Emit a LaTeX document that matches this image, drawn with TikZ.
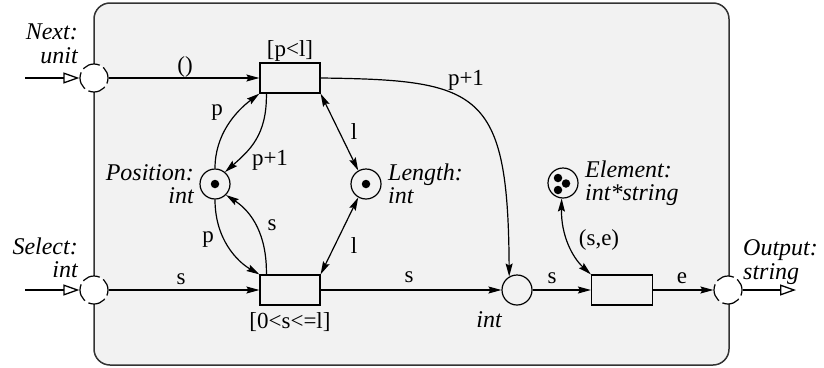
\documentclass[tikz,border=0pt]{standalone}
\usepackage{fontspec}
\setmainfont{Liberation Serif}
\usetikzlibrary{arrows.meta}

\begin{document}
\begin{tikzpicture}[x=1pt, y=-1pt,
  place/.style={circle, draw, line width=1.2pt, minimum size=30pt, inner sep=0pt},
  trans/.style={rectangle, draw, line width=1.2pt, minimum width=60pt, minimum height=30pt, inner sep=0pt},
  port/.style={circle, draw, line width=1.2pt, dash pattern=on 18pt off 4pt, dash phase=6pt, fill=white, minimum size=28pt, inner sep=0pt},
  arc/.style={line width=1.2pt, -{Stealth[length=13pt, width=7pt, inset=2pt]}},
  biarc/.style={line width=1.2pt, {Stealth[length=13pt, width=7pt, inset=2pt]}-{Stealth[length=13pt, width=7pt, inset=2pt]}},
  ext/.style={line width=2.2pt, -{Triangle[open, length=16pt, width=11pt, line width=1.3pt]}},
  lbl/.style={font=\fontsize{23}{23}\selectfont, inner sep=0pt},
  decl/.style={font=\fontsize{24}{23.5}\selectfont\itshape, inner sep=0pt},
  token/.style={circle, fill, minimum size=8.5pt, inner sep=0pt}]
  \useasboundingbox (0,0) rectangle (824,367);
  % module box
  \filldraw[fill=gray!10, draw=black!80, line width=1.5pt, rounded corners=16pt] (94,3) rectangle (729,365);
  % ports
  \node[port] (pNext) at (94,78) {};
  \node[port] (pSelect) at (94,290) {};
  \node[port] (pOutput) at (728,290) {};
  \node[decl, anchor=east, align=right] (dNext) at (78,44) {Next:\\unit};
  \node[decl, anchor=east, align=right] (dSelect) at (78,258) {Select:\\int};
  \node[decl, anchor=west, align=left] (dOutput) at (743,262) {Output:\\string};
  \coordinate (inNext) at (25,78);
  \coordinate (inSelect) at (25,290);
  \coordinate (outEnd) at (796,290);
  % transitions
  \node[trans] (tStep) at (290,78) {};
  \node[trans] (tSelect) at (290,290) {};
  \node[trans, minimum width=61pt] (tOutput) at (622,290) {};
  \node[lbl] (gStep) at (290,51) {[p<l]};
  \node[lbl] (gSelect) at (290,322) {[0<s<=l]};
  % places
  \node[place] (pPosition) at (215,184) {};
  \node[place] (pLength) at (366,184) {};
  \node[place] (pElement) at (563,183) {};
  \node[place] (pInt) at (517,290) {};
  \node[token] (kPosition) at (pPosition) {};
  \node[token] (kLength) at (pLength) {};
  \node[token] (kElemA) at (558,178) {};
  \node[token] (kElemB) at (566,183.5) {};
  \node[token] (kElemC) at (558,190) {};
  \node[decl, anchor=east, align=right] (dPosition) at (194,184) {Position:\\int};
  \node[decl, anchor=west, align=left] (dLength) at (388,184) {Length:\\int};
  \node[decl, anchor=west, align=left] (dElement) at (585,183) {Element:\\int*string};
  \node[decl] (dInt) at (489,320) {int};
  % arcs
  \draw[ext] (inNext) -- (pNext);
  \draw[ext] (inSelect) -- (pSelect);
  \draw[ext] (pOutput) -- (outEnd);
  \draw[arc] (pNext) -- (tStep);
  \draw[arc] (pSelect) -- (tSelect);
  \draw[arc] (tSelect) -- (pInt);
  \draw[arc] (pInt) -- (tOutput);
  \draw[arc] (tOutput) -- (pOutput);
  \draw[arc] ([xshift=7pt]tStep.south west) .. controls (267,135) and (250,150) .. (pPosition.50);
  \draw[arc] (pPosition.north) .. controls (215,135) and (235,112) .. (tStep.south west);
  \draw[arc] (pPosition.south) .. controls (215,240) and (238,262) .. (tSelect.north west);
  \draw[arc] ([xshift=7pt]tSelect.north west) .. controls (267,235) and (252,212) .. (pPosition.-45);
  \draw[biarc] (tStep.south east) -- (pLength.120);
  \draw[biarc] (pLength.-120) -- (tSelect.north east);
  \draw[arc] (tStep.east) .. controls (480,80) and (508,90) .. (pInt.120);
  \draw[biarc] (pElement.-95) .. controls (561,235) and (572,257) .. (tOutput.north west);
  % inscriptions
  \node[lbl] (aNext) at (185,67) {()};
  \node[lbl] (aSelect) at (181,279) {s};
  \node[lbl] (aMid) at (409,277) {s};
  \node[lbl] (aInt) at (552,278) {s};
  \node[lbl] (aOut) at (682,278) {e};
  \node[lbl] (aIncr) at (466,80) {p+1};
  \node[lbl] (aBack) at (270,160) {p+1};
  \node[lbl] (aRead) at (217,113) {p};
  \node[lbl] (aGet) at (208,240) {p};
  \node[lbl] (aSet) at (272,225) {s};
  \node[lbl] (aLenTop) at (354,132) {l};
  \node[lbl] (aLenBot) at (354,246) {l};
  \node[lbl] (aElem) at (599,240) {(s,e)};
\end{tikzpicture}
\end{document}
